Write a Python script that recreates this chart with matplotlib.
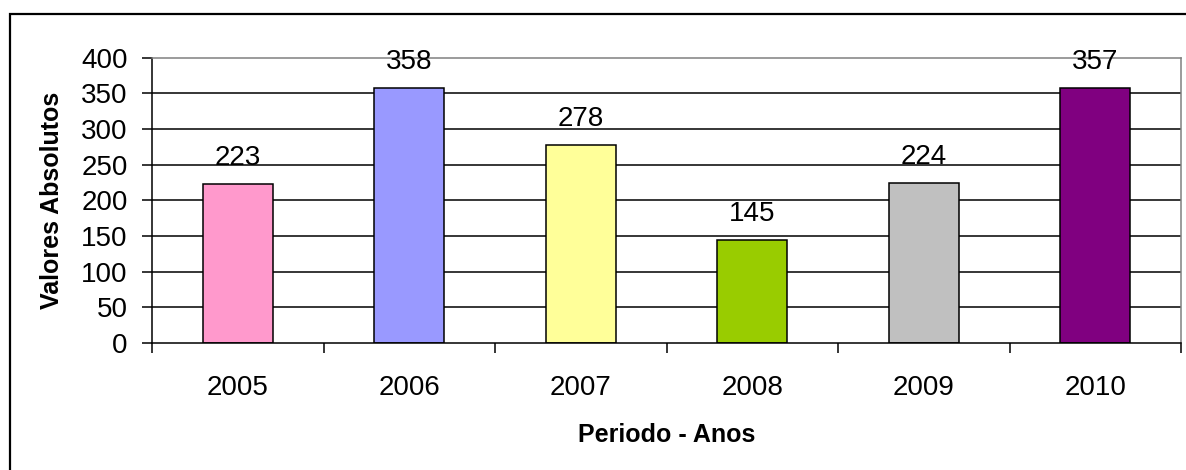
import matplotlib
matplotlib.use('Agg')
import matplotlib.pyplot as plt
from matplotlib.patches import Rectangle
import numpy as np

plt.rcParams['font.family'] = ['Liberation Sans', 'DejaVu Sans']

anos = ['2005', '2006', '2007', '2008', '2009', '2010']
valores = [223, 358, 278, 145, 224, 357]
cores = ['#FF99CC', '#9999FF', '#FFFF99', '#99CC00', '#C0C0C0', '#800080']
yticks = [0, 50, 100, 150, 200, 250, 300, 350, 400]

fig = plt.figure(figsize=(11.86, 4.70), dpi=100, facecolor='white')
ax = fig.add_axes([0.1282, 0.2702, 0.8676, 0.6074])

x = np.arange(len(anos))

# gridlines (top one is the plot area border, drawn grey by the spine)
for v in yticks[1:-1]:
    ax.axhline(v, color='black', lw=1.1, zorder=0)

ax.bar(x, valores, width=0.41, color=cores, edgecolor='black', linewidth=1.1, zorder=2)

for xi, v in zip(x, valores):
    ax.annotate(str(v), (xi, v), xytext=(0, 13.5), textcoords='offset points',
                ha='center', va='baseline', fontsize=20, zorder=3)

ax.set_xlim(-0.5, len(anos) - 0.5)
ax.set_ylim(0, 400)
ax.set_yticks(yticks)
ax.tick_params(axis='y', direction='out', length=7, width=1.1, pad=10.5, labelsize=20)

# ticks between categories, labels at the centres
ax.set_xticks(np.arange(-0.5, len(anos)))
ax.set_xticklabels([])
ax.set_xticks(x, minor=True)
ax.set_xticklabels(anos, minor=True)
ax.tick_params(axis='x', which='major', direction='out', length=7, width=1.1)
ax.tick_params(axis='x', which='minor', length=0, pad=23, labelsize=20)

for s in ['left', 'bottom']:
    ax.spines[s].set_color('black')
    ax.spines[s].set_linewidth(1.1)
for s in ['top', 'right']:
    ax.spines[s].set_color('#808080')
    ax.spines[s].set_linewidth(1.1)

ax.text(0.5, -0.28, 'Periodo - Anos', transform=ax.transAxes, ha='center', va='top',
        fontsize=18, fontweight='bold')
ax.text(-0.097, 0.5, 'Valores Absolutos', transform=ax.transAxes, ha='center', va='center',
        rotation=90, fontsize=18, fontweight='bold')

# outer chart border (only left and top visible in the crop)
fig.patches.append(Rectangle((10 / 1186, -0.1), 2, 0.970 + 0.1, transform=fig.transFigure,
                             fill=False, edgecolor='black', linewidth=1.6))

fig.savefig('out.png', dpi=100, facecolor='white')
